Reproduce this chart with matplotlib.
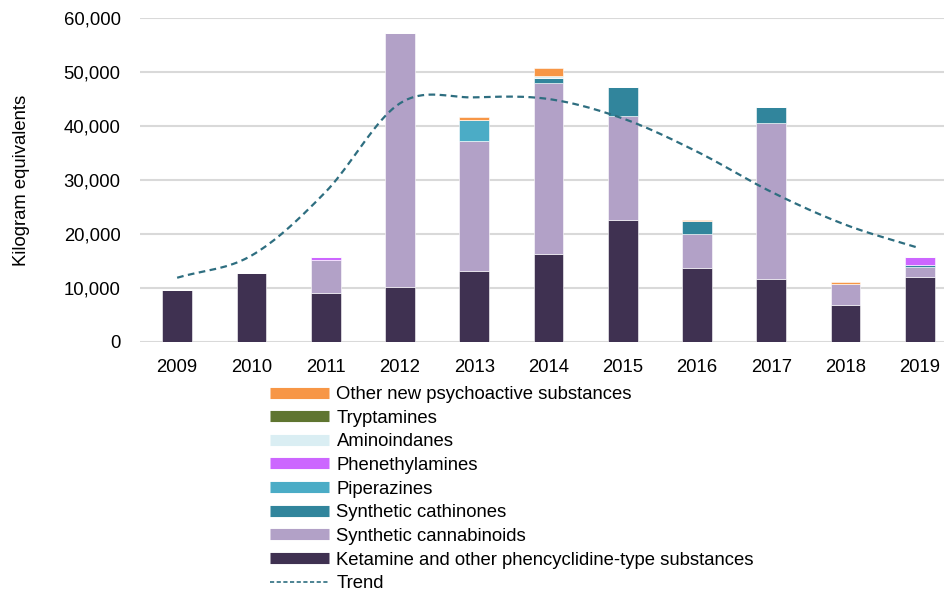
import numpy as np
import matplotlib
matplotlib.use("Agg")
import matplotlib.pyplot as plt
from matplotlib.lines import Line2D
from matplotlib.ticker import FuncFormatter

plt.rcParams['font.family'] = ['Liberation Sans', 'DejaVu Sans']

years = ['2009', '2010', '2011', '2012', '2013', '2014', '2015', '2016', '2017', '2018', '2019']

# kilogram equivalents per substance group, stacked bottom to top
ketamine        = [9600, 12700, 9070, 10240, 13210, 16300, 22650, 13640, 11670, 6910, 11980]
cannabinoids    = [100, 0, 6170, 46980, 24010, 31660, 19140, 6300, 28830, 3770, 1970]
cathinones      = [0, 150, 0, 0, 0, 990, 5370, 2530, 2960, 80, 300]
piperazines     = [0, 0, 0, 0, 3950, 0, 0, 0, 0, 0, 0]
phenethylamines = [0, 0, 500, 0, 0, 0, 0, 0, 0, 0, 1400]
aminoindanes    = [0, 0, 0, 0, 0, 300, 0, 0, 0, 0, 0]
tryptamines     = [0, 0, 0, 0, 0, 0, 0, 0, 0, 0, 0]
other_nps       = [0, 0, 0, 0, 430, 1420, 100, 150, 150, 350, 120]

trend = [11900, 16000, 27800, 44200, 45300, 45000, 41400, 35250, 27800, 21700, 17350]

series = [
    ('Ketamine and other phencyclidine-type substances', ketamine, '#3f3151'),
    ('Synthetic cannabinoids', cannabinoids, '#b2a1c7'),
    ('Synthetic cathinones', cathinones, '#31859c'),
    ('Piperazines', piperazines, '#4bacc6'),
    ('Phenethylamines', phenethylamines, '#cc66ff'),
    ('Aminoindanes', aminoindanes, '#daeef3'),
    ('Tryptamines', tryptamines, '#5f7530'),
    ('Other new psychoactive substances', other_nps, '#f79646'),
]
trend_color = '#2e6e80'
fs = 13.3


def smooth_line(x, y, steps=20):
    """Catmull-Rom curve through the points, like a spreadsheet smoothed line."""
    x = np.asarray(x, float)
    y = np.asarray(y, float)
    px = np.concatenate([[2 * x[0] - x[1]], x, [2 * x[-1] - x[-2]]])
    py = np.concatenate([[2 * y[0] - y[1]], y, [2 * y[-1] - y[-2]]])
    xs, ys = [], []
    t = np.linspace(0, 1, steps, endpoint=False)
    for i in range(1, len(px) - 2):
        for p, out in ((px, xs), (py, ys)):
            p0, p1, p2, p3 = p[i - 1], p[i], p[i + 1], p[i + 2]
            out.extend(0.5 * (2 * p1 + (-p0 + p2) * t
                              + (2 * p0 - 5 * p1 + 4 * p2 - p3) * t ** 2
                              + (-p0 + 3 * p1 - 3 * p2 + p3) * t ** 3))
    xs.append(x[-1])
    ys.append(y[-1])
    return np.array(xs), np.array(ys)


fig = plt.figure(figsize=(9.44, 5.93), dpi=100)
ax = fig.add_axes([140 / 944, 251 / 593, 817 / 944, 324 / 593])

x = np.arange(len(years))
bottom = np.zeros(len(years))
for label, vals, color in series:
    vals = np.array(vals, float)
    ax.bar(x, vals, width=0.4, bottom=bottom, color=color,
           edgecolor='#ffffff', linewidth=0.4, zorder=2)
    bottom += vals

tx, ty = smooth_line(x, trend)
ax.plot(tx, ty, color=trend_color, linestyle=(0, (3, 2)), linewidth=1.6, zorder=3)

ax.set_xlim(-0.5, len(years) - 0.5)
ax.set_ylim(0, 60000)
ax.set_yticks(np.arange(0, 60001, 10000))
ax.yaxis.set_major_formatter(FuncFormatter(lambda v, p: '{:,.0f}'.format(v)))
ax.set_xticks(x)
ax.set_xticklabels(years)
ax.tick_params(axis='both', length=0, labelsize=fs, colors='#000000')
ax.tick_params(axis='x', pad=12)
ax.tick_params(axis='y', pad=14)
ax.grid(axis='y', color='#d9d9d9', linewidth=1.5, zorder=0)
ax.set_axisbelow(True)
for s in ax.spines.values():
    s.set_visible(False)
ax.set_ylabel('Kilogram equivalents', fontsize=fs, labelpad=24)

# legend: top of stack first, trend last
handles = []
labels = []
for label, vals, color in reversed(series):
    handles.append(Line2D([], [], color=color, linewidth=8, solid_capstyle='butt'))
    labels.append(label)
handles.append(Line2D([], [], color=trend_color, linewidth=1.2, linestyle=(0, (2.5, 1.5))))
labels.append('Trend')

fig.legend(handles, labels, loc='upper left', bbox_to_anchor=(270 / 944, 1 - 386 / 593),
           frameon=False, fontsize=fs, handlelength=3.2, handletextpad=0.4,
           labelspacing=0.36, borderpad=0, borderaxespad=0)

fig.savefig('out.png', dpi=100)
